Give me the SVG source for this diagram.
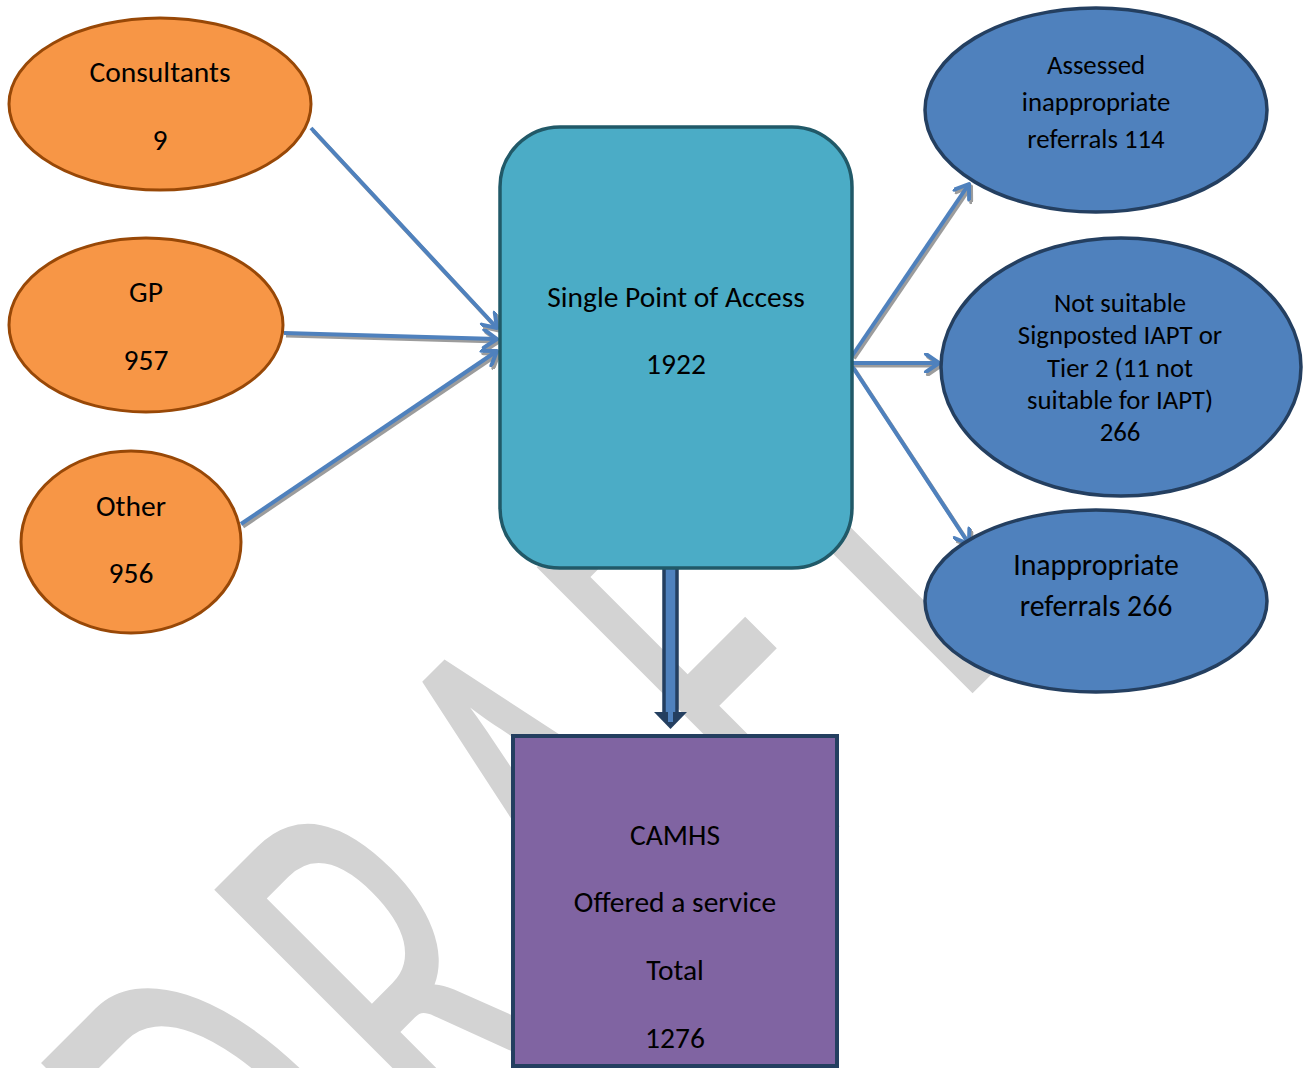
<svg xmlns="http://www.w3.org/2000/svg" width="1311" height="1068" viewBox="0 0 1311 1068">
<style>
.t{font-family:Carlito,Calibri,Lato,"Liberation Sans",sans-serif;font-size:29.5px;fill:#000;text-anchor:middle}
.s{font-size:26.8px}
.org{fill:#f79646;stroke:#984807;stroke-width:3}
.blu{fill:#4f81bd;stroke:#243f60;stroke-width:3.5}
.conn{stroke:#4f81bd;stroke-width:4;fill:none;marker-end:url(#ah)}
.shd{stroke:#9c9c9c;stroke-width:4;fill:none;marker-end:url(#ahs)}
.wm{font-family:Carlito,Calibri,Lato,"Liberation Sans",sans-serif;font-size:349px;fill:#d3d3d3;text-anchor:middle}
</style>
<defs>
<marker id="ah" markerUnits="userSpaceOnUse" viewBox="0 0 20 20" markerWidth="20" markerHeight="20" refX="17" refY="10" orient="auto">
<path d="M4,1 L17,10 L4,19" fill="none" stroke="#4f81bd" stroke-width="4" stroke-linecap="round" stroke-linejoin="round"/>
</marker>
<marker id="ahs" markerUnits="userSpaceOnUse" viewBox="0 0 20 20" markerWidth="20" markerHeight="20" refX="17" refY="10" orient="auto">
<path d="M4,1 L17,10 L4,19" fill="none" stroke="#9c9c9c" stroke-width="4" stroke-linecap="round" stroke-linejoin="round"/>
</marker>
</defs>
<rect width="1311" height="1068" fill="#fff"/>
<g id="watermark" transform="rotate(-45) scale(1,1.774)">
<text class="wm" x="-639 -408 -168 35 213" y="664">DRAFT</text>
</g>
<g id="connectors">
<g transform="translate(2,2.5)">
<line class="shd" x1="311" y1="128" x2="497" y2="328"/>
<line class="shd" x1="284" y1="333" x2="497" y2="339"/>
<line class="shd" x1="241" y1="524" x2="497" y2="351"/>
<line class="shd" x1="852" y1="356" x2="969" y2="184"/>
<line class="shd" x1="852" y1="363" x2="939" y2="363"/>
<line class="shd" x1="852" y1="366" x2="969" y2="544"/>
</g>
<line class="conn" x1="311" y1="128" x2="497" y2="328"/>
<line class="conn" x1="284" y1="333" x2="497" y2="339"/>
<line class="conn" x1="241" y1="524" x2="497" y2="351"/>
<line class="conn" x1="852" y1="356" x2="969" y2="184"/>
<line class="conn" x1="852" y1="363" x2="939" y2="363"/>
<line class="conn" x1="852" y1="366" x2="969" y2="544"/>
<rect x="664" y="566" width="13" height="148" fill="#4f81bd" stroke="#243f60" stroke-width="3.5"/>
<polygon points="654,712 687,712 670.5,729" fill="#243f60"/>
<line x1="670.5" y1="566" x2="670.5" y2="722" stroke="#4f81bd" stroke-width="5"/>
</g>
<g id="consultants">
<ellipse class="org" cx="160" cy="104" rx="151" ry="86"/>
<text class="t" x="160" y="82">Consultants</text>
<text class="t" x="160" y="150">9</text>
</g>
<g id="gp">
<ellipse class="org" cx="146" cy="325" rx="137" ry="87"/>
<text class="t" x="146" y="302">GP</text>
<text class="t" x="146" y="370">957</text>
</g>
<g id="other">
<ellipse class="org" cx="131" cy="542" rx="110" ry="91"/>
<text class="t" x="131" y="516">Other</text>
<text class="t" x="131" y="583">956</text>
</g>
<g id="spa">
<rect x="500" y="127" width="352" height="441" rx="60" fill="#4bacc6" stroke="#215968" stroke-width="3.5"/>
<text class="t" x="676" y="307">Single Point of Access</text>
<text class="t" x="676" y="374">1922</text>
</g>
<g id="assessed">
<ellipse class="blu" cx="1096" cy="110" rx="171" ry="102"/>
<text class="t s" x="1096" y="74">Assessed</text>
<text class="t s" x="1096" y="111">inappropriate</text>
<text class="t s" x="1096" y="148">referrals 114</text>
</g>
<g id="notsuitable">
<ellipse class="blu" cx="1121" cy="367" rx="180" ry="129"/>
<text class="t s" x="1120" y="312">Not suitable</text>
<text class="t s" x="1120" y="344">Signposted IAPT or</text>
<text class="t s" x="1120" y="377">Tier 2 (11 not</text>
<text class="t s" x="1120" y="409">suitable for IAPT)</text>
<text class="t s" x="1120" y="441">266</text>
</g>
<g id="inappropriate">
<ellipse class="blu" cx="1096" cy="601" rx="171" ry="91"/>
<text class="t" x="1096" y="575" style="font-size:29.8px">Inappropriate</text>
<text class="t" x="1096" y="616" style="font-size:29.8px">referrals 266</text>
</g>
<g id="camhs">
<rect x="513" y="736" width="324" height="330" fill="#8064a2" stroke="#243f60" stroke-width="4"/>
<text class="t" x="675" y="845">CAMHS</text>
<text class="t" x="675" y="912">Offered a service</text>
<text class="t" x="675" y="980">Total</text>
<text class="t" x="675" y="1048">1276</text>
</g>
</svg>
